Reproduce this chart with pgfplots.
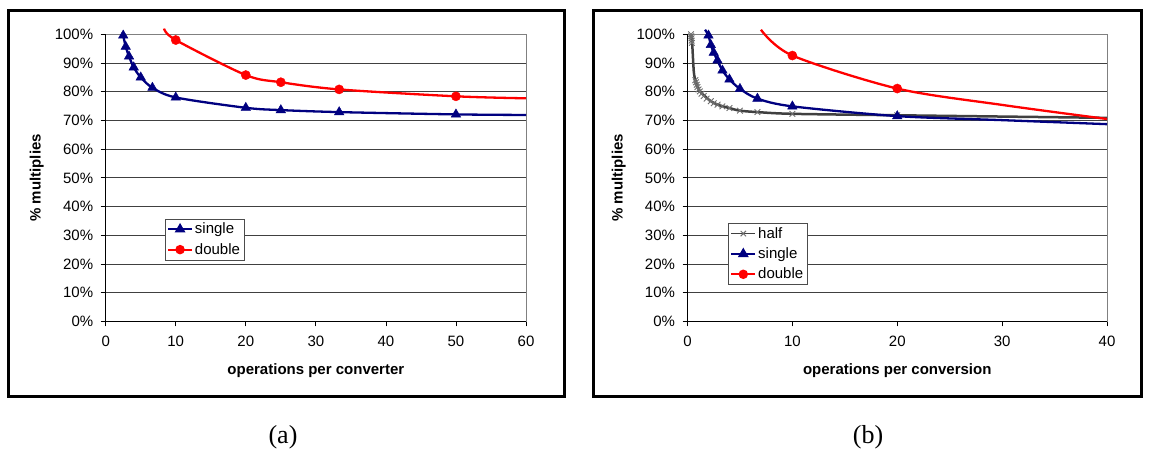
\documentclass[border=0pt]{standalone}
\usepackage{fontspec}
\setmainfont{Liberation Sans}
\newfontfamily\timesfont{Liberation Serif}
\usepackage{pgfplots}
\pgfplotsset{compat=1.18}
\definecolor{navyc}{RGB}{0,0,128}
\definecolor{redc}{RGB}{255,0,0}
\definecolor{halfc}{RGB}{64,64,64}
\definecolor{halfm}{RGB}{110,110,110}
\newcommand\fs{\fontsize{15bp}{18bp}\selectfont}
\pgfplotsset{
  excel/.style={
    scale only axis, clip=false,
    ymin=0, ymax=100, ytick={0,10,...,100},
    yticklabel={\pgfmathprintnumber{\tick}\%},
    /pgf/number format/assume math mode=true,
    tick label style={font=\fs},
    yticklabel style={xshift=-4bp},
    xticklabel style={yshift=-6bp},
    label style={font=\fs\bfseries},
    tick pos=left, tick align=outside, major tick length=5bp,
    tick style={black, line width=0.8bp},
    ymajorgrids, major grid style={black!75, line width=0.9bp},
    axis line style={draw=gray, line width=1bp},
    legend style={font=\fs, draw=black!70, fill=white, inner xsep=2bp, inner ysep=2bp, row sep=4bp, cells={anchor=west}},
    legend image code/.code={\draw[mark repeat=2,mark phase=2,##1] plot coordinates {(0bp,0bp) (12bp,0bp) (24bp,0bp)};},
  },
  sline/.style={navyc, line width=2.3bp, smooth, no marks},
  smark/.style={only marks, mark=triangle*, mark size=5.5bp, mark options={fill=navyc, draw=navyc}},
  dline/.style={redc, line width=2.3bp, smooth, no marks},
  dmark/.style={only marks, mark=*, mark size=4.6bp, mark options={fill=redc, draw=redc}},
  hline/.style={halfc, line width=2.5bp, smooth, no marks},
  hmark/.style={only marks, mark=x, mark size=4bp, mark options={draw=halfm, line width=0.9bp}},
}
\begin{document}
\begin{tikzpicture}
\path[use as bounding box] (0bp,0bp) rectangle (1150bp,451bp);
\draw[line width=3bp] (8.5bp,440.5bp) rectangle (564.5bp,54.5bp);
\draw[line width=3bp] (593.5bp,440.5bp) rectangle (1141bp,54.5bp);
\node[font=\timesfont\fontsize{26bp}{30bp}\selectfont] at (283bp,14bp) {(a)};
\node[font=\timesfont\fontsize{26bp}{30bp}\selectfont] at (868bp,14bp) {(b)};

% ---------------- (a) ----------------
\begin{axis}[excel, at={(105.7bp,129.6bp)}, anchor=south west,
  width=420.3bp, height=287.1bp,
  xmin=0, xmax=60, xtick={0,10,...,60},
  xlabel={operations per converter}, ylabel={\% multiplies},
  xlabel style={at={(axis description cs:0.5,-0.171)}, anchor=center},
  ylabel style={at={(axis description cs:-0.164,0.5)}, anchor=center},
  legend style={at={(0.141,0.357)}, anchor=north west},
]
\addplot[sline, forget plot] coordinates {(2.45,100.6) (2.5,99.6) (2.857,95.7) (3.333,92.3) (4,88.5) (5,85.0) (6.667,81.4) (10,78.0) (20,74.4) (25,73.6) (33.33,72.9) (50,72.1) (60,71.9)};
\addplot[smark, forget plot] coordinates {(2.5,99.6) (2.857,95.7) (3.333,92.3) (4,88.5) (5,85.0) (6.667,81.4) (10,78.0) (20,74.4) (25,73.6) (33.33,72.9) (50,72.1)};
\addplot[dline, forget plot] coordinates {(8.33,102.0) (10,98.0) (20,85.8) (25,83.3) (33.33,80.8) (50,78.4) (60,77.7)};
\addplot[dmark, forget plot] coordinates {(10,98.0) (20,85.8) (25,83.3) (33.33,80.8) (50,78.4)};
\addlegendimage{navyc, line width=1.8bp, mark=triangle*, mark size=4.5bp, mark options={fill=navyc}}
\addlegendentry{single}
\addlegendimage{redc, line width=1.8bp, mark=*, mark size=3.8bp, mark options={fill=redc}}
\addlegendentry{double}
\draw[black, line width=1bp] (rel axis cs:0,1) -- (rel axis cs:0,0) -- (rel axis cs:1,0);
\end{axis}

% ---------------- (b) ----------------
\begin{axis}[excel, at={(687.5bp,129.6bp)}, anchor=south west,
  width=419.5bp, height=287.1bp,
  xmin=0, xmax=40, xtick={0,10,...,40},
  xlabel={operations per conversion}, ylabel={\% multiplies},
  xlabel style={at={(axis description cs:0.5,-0.171)}, anchor=center},
  ylabel style={at={(axis description cs:-0.164,0.5)}, anchor=center},
  legend style={at={(0.097,0.342)}, anchor=north west},
]
\addplot[hline, forget plot] coordinates {(0.35,100) (0.45,96.5) (0.6,87.0) (0.75,84.0) (0.88,82.4) (1.19,80.1) (1.67,78.4) (2.15,76.9) (2.6,75.9) (3.1,75.2) (4,74.3) (5,73.4) (6.67,72.9) (10,72.3) (20,71.8) (40,70.9)};
\addplot[hmark, forget plot] coordinates {(0.33,100) (0.36,99.3) (0.38,98.6) (0.4,97.8) (0.42,97.0) (0.75,84.0) (0.8,83.3) (0.88,82.4) (0.95,81.6) (1.05,80.8) (1.18,80.1) (1.33,79.3) (1.54,78.5) (1.82,77.6) (2.22,76.7) (2.5,76.0) (2.86,75.5) (3.33,74.9) (4,74.3) (5,73.4) (6.67,72.9) (10,72.3) (20,71.8)};
\addplot[sline, forget plot] coordinates {(1.67,101.6) (2,99.6) (2.222,96.3) (2.5,93.6) (2.857,90.9) (3.333,87.4) (4,84.3) (5,81.0) (6.667,77.6) (10,74.9) (20,71.5) (30,70.1) (40,68.7)};
\addplot[smark, forget plot] coordinates {(2,99.6) (2.222,96.3) (2.5,93.6) (2.857,90.9) (3.333,87.4) (4,84.3) (5,81.0) (6.667,77.6) (10,74.9) (20,71.5)};
\addplot[dline, forget plot] coordinates {(7.0,101.6) (10,92.6) (20,81.1) (30,75.4) (40,70.5)};
\addplot[dmark, forget plot] coordinates {(10,92.6) (20,81.1)};
\addlegendimage{halfc, line width=1.8bp, mark=x, mark size=3.8bp, mark options={draw=halfm, line width=0.9bp}}
\addlegendentry{half}
\addlegendimage{navyc, line width=1.8bp, mark=triangle*, mark size=4.5bp, mark options={fill=navyc}}
\addlegendentry{single}
\addlegendimage{redc, line width=1.8bp, mark=*, mark size=3.8bp, mark options={fill=redc}}
\addlegendentry{double}
\draw[black, line width=1bp] (rel axis cs:0,1) -- (rel axis cs:0,0) -- (rel axis cs:1,0);
\end{axis}
\end{tikzpicture}
\end{document}
